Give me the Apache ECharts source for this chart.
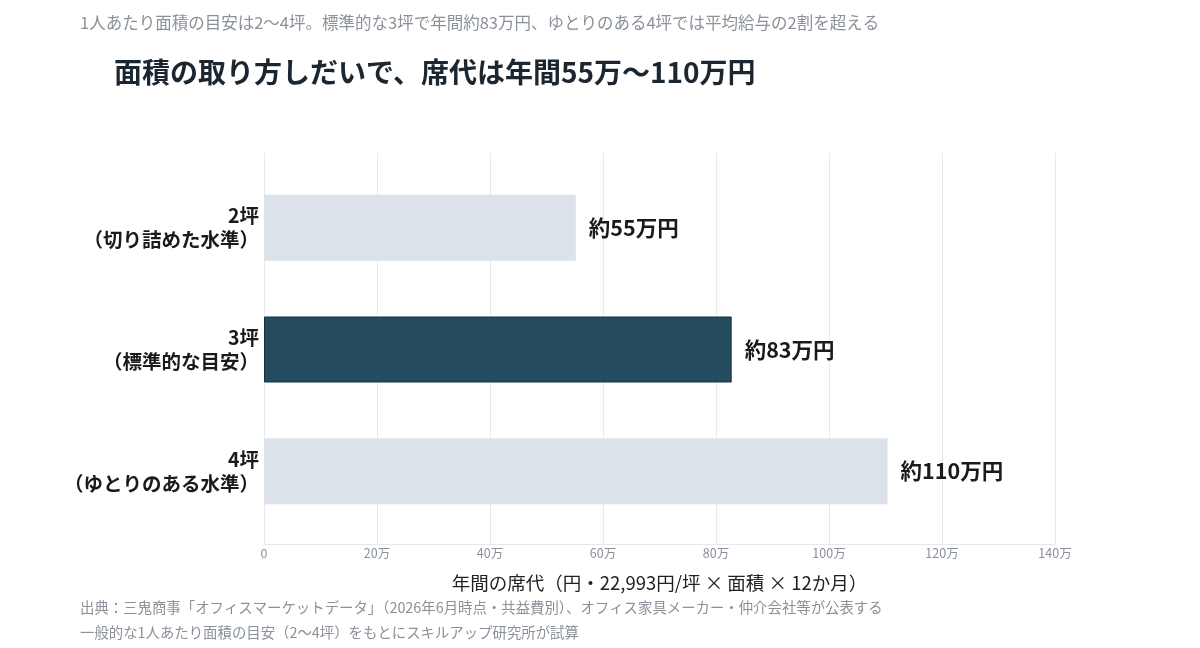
<!DOCTYPE html>
<html>
<head>
<meta charset="utf-8">
<script src="https://cdn.jsdelivr.net/npm/echarts@6/dist/echarts.min.js"></script>
<style>
  html, body { margin: 0; padding: 0; background: #fff; }
  #chart { width: 1200px; height: 648px; }
</style>
</head>
<body>
<div id="chart"></div>
<script>
(function(){
    // 面積ごとの年間席代（円）= 22,993円/坪 × 面積 × 12か月
    var categories = ['2坪\n（切り詰めた水準）', '3坪\n（標準的な目安）', '4坪\n（ゆとりのある水準）'];
    var seatCost = [551832, 827748, 1103664];
    var highlight = [false, true, false];

    var xMin = 0;
    var xMax = 1400000;
    var xStep = 200000;

    var font = '"Noto Sans CJK JP", "Noto Sans", sans-serif';
    var chart = echarts.init(document.getElementById('chart'));

    var barData = seatCost.map(function(v, i){
        return {
            value: v,
            itemStyle: highlight[i]
                ? { color: '#244c5e', borderColor: '#12303d', borderWidth: 1 }
                : { color: '#dbe2e9' }
        };
    });

    var option = {
        backgroundColor: '#ffffff',
        animation: false,
        textStyle: { fontFamily: font },
        title: [
            {
                text: '1人あたり面積の目安は2〜4坪。標準的な3坪で年間約83万円、ゆとりのある4坪では平均給与の2割を超える',
                left: 75, top: 9,
                textStyle: { fontSize: 16.5, fontWeight: 'normal', color: '#8a9199', fontFamily: font }
            },
            {
                text: '面積の取り方しだいで、席代は年間55万〜110万円',
                left: 109, top: 53,
                textStyle: { fontSize: 28, fontWeight: 'bold', color: '#1b2630', fontFamily: font }
            },
            {
                text: '出典：三鬼商事「オフィスマーケットデータ」（2026年6月時点・共益費別）、オフィス家具メーカー・仲介会社等が公表する\n一般的な1人あたり面積の目安（2〜4坪）をもとにスキルアップ研究所が試算',
                left: 75, top: 590,
                textStyle: { fontSize: 14.4, fontWeight: 'normal', color: '#8a9199', lineHeight: 25, fontFamily: font }
            }
        ],
        grid: [
            { left: 264, right: 145, top: 167, bottom: 116 },
            { left: 264, right: 145, top: 153, bottom: 104 }
        ],
        xAxis: [
            {
                gridIndex: 0, type: 'value', min: xMin, max: xMax, interval: xStep,
                show: false
            },
            {
                gridIndex: 1, type: 'value', min: xMin, max: xMax, interval: xStep,
                axisLine: { show: true, lineStyle: { color: '#e6e8eb' } },
                axisTick: { show: false },
                splitLine: { show: true, lineStyle: { color: '#e8e9eb', width: 1 } },
                axisLabel: {
                    color: '#8a9199', fontSize: 12.5, margin: 3, fontFamily: font,
                    formatter: function(v){ return v === 0 ? '0' : (v / 10000) + '万'; }
                },
                name: '年間の席代（円・22,993円/坪 × 面積 × 12か月）',
                nameLocation: 'middle',
                nameGap: 30,
                nameTextStyle: { fontSize: 18.5, color: '#222222', fontFamily: font }
            }
        ],
        yAxis: [
            {
                gridIndex: 0, type: 'category', data: categories, inverse: true,
                axisLine: { show: false },
                axisTick: { show: false },
                axisLabel: {
                    fontSize: 19.5, fontWeight: 'bold', color: '#1a1a1a', lineHeight: 24,
                    align: 'right', margin: 5, fontFamily: font,
                    padding: [5, 0, 0, 0]
                }
            },
            {
                gridIndex: 1, type: 'category', data: [''], show: false
            }
        ],
        series: [
            {
                type: 'bar',
                xAxisIndex: 0, yAxisIndex: 0,
                barWidth: 66,
                data: barData,
                label: {
                    show: true,
                    position: 'right',
                    distance: 13,
                    fontSize: 21.5,
                    fontWeight: 'bold',
                    color: '#1a1a1a',
                    fontFamily: font,
                    formatter: function(p){ return '約' + Math.round(p.value / 10000) + '万円'; }
                }
            }
        ]
    };

    chart.setOption(option);
})();
</script>
</body>
</html>
